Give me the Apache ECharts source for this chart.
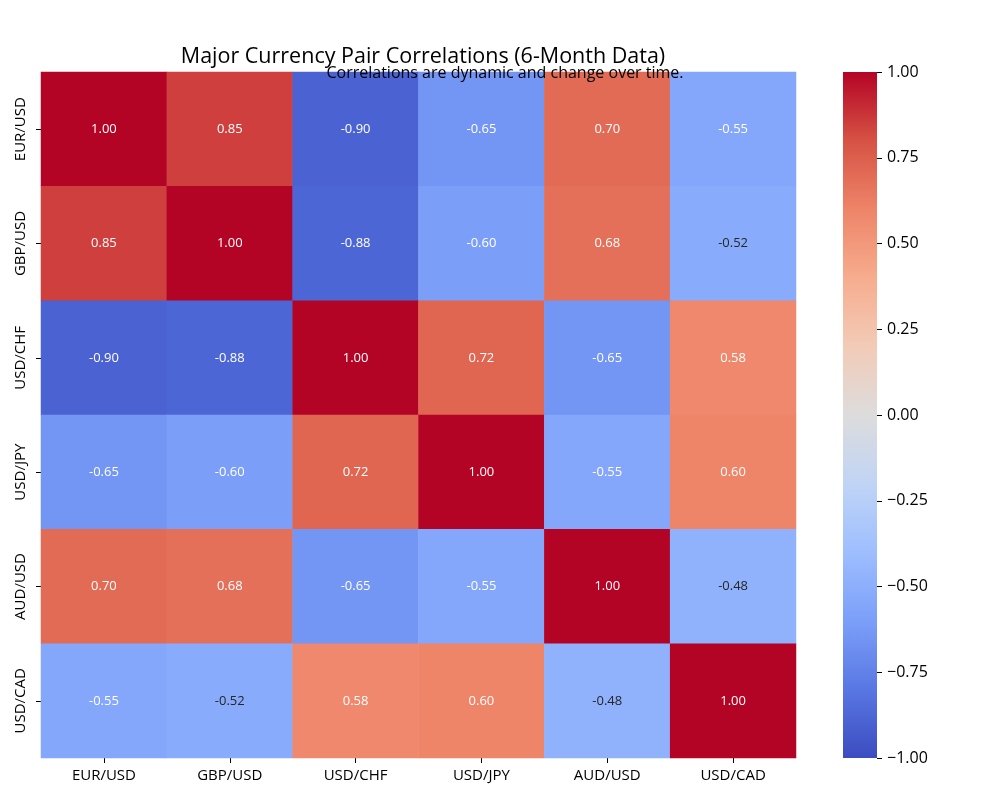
<!DOCTYPE html>
<html>
<head>
<meta charset="utf-8">
<title>Major Currency Pair Correlations</title>
<script src="https://cdn.jsdelivr.net/npm/echarts@6/dist/echarts.min.js"></script>
<style>
  html, body { margin: 0; padding: 0; background: #fff; }
  #main { width: 1000px; height: 800px; }
</style>
</head>
<body>
<div id="main"></div>
<script>
"use strict";

/* ---------- data ---------- */
const pairs = ["EUR/USD", "GBP/USD", "USD/CHF", "USD/JPY", "AUD/USD", "USD/CAD"];

// correlation matrix, one row per pair (same order as `pairs`)
const corr = [
    [ 1.00,  0.85, -0.90, -0.65,  0.70, -0.55],
    [ 0.85,  1.00, -0.88, -0.60,  0.68, -0.52],
    [-0.90, -0.88,  1.00,  0.72, -0.65,  0.58],
    [-0.65, -0.60,  0.72,  1.00, -0.55,  0.60],
    [ 0.70,  0.68, -0.65, -0.55,  1.00, -0.48],
    [-0.55, -0.52,  0.58,  0.60, -0.48,  1.00]
];

// colour bar ticks
const cbMin = -1, cbMax = 1, cbStep = 0.25;

/* ---------- style ---------- */
const FONT = "'Open Sans', 'DejaVu Sans', sans-serif";
// matplotlib "coolwarm", 11 stops from -1 to 1
const COOLWARM = ["#3b4cc0", "#5977e3", "#7b9ff9", "#9ebeff", "#c0d4f5", "#dddcdc",
    "#f2cbb7", "#f7ac8e", "#ee8468", "#d65244", "#b40426"];

// heatmap cells: [x, y, value]
const cells = [];
corr.forEach((row, i) => row.forEach((v, j) => {
    cells.push({
        value: [j, i, v],
        // light cells get dark text, like seaborn does
        label: { color: Math.abs(v) > 0.53 ? "#ffffff" : "#262626" }
    });
}));

// colour bar gradient, bottom (-1) to top (+1)
const cbGradient = new echarts.graphic.LinearGradient(0, 1, 0, 0,
    COOLWARM.map((c, i) => ({ offset: i / (COOLWARM.length - 1), color: c })));

const chart = echarts.init(document.getElementById("main"));
chart.setOption({
    animation: false,
    textStyle: { fontFamily: FONT },
    title: [
        {
            text: "Major Currency Pair Correlations (6-Month Data)",
            left: 418, top: 41, textAlign: "center",
            textStyle: { fontSize: 21.5, fontWeight: "normal", color: "#000" }
        },
        {
            text: "Correlations are dynamic and change over time.",
            left: 500, top: 60, textAlign: "center",
            textStyle: { fontSize: 16, fontWeight: "normal", color: "#000" }
        }
    ],
    grid: [
        { left: 41, right: 204, top: 72, bottom: 42 },
        { left: 843, width: 34, top: 72, height: 686 }
    ],
    xAxis: [
        {
            type: "category", data: pairs, gridIndex: 0,
            axisLine: { show: false },
            axisTick: { show: true, alignWithLabel: true, length: 5, lineStyle: { color: "#000" } },
            axisLabel: { color: "#000", fontSize: 15, margin: 10 },
            splitArea: { show: false }
        },
        {
            type: "category", data: [""], gridIndex: 1, show: false,
            axisLine: { show: false }, axisTick: { show: false }, axisLabel: { show: false }
        }
    ],
    yAxis: [
        {
            type: "category", data: pairs, gridIndex: 0, inverse: true,
            axisLine: { show: false },
            axisTick: { show: true, alignWithLabel: true, length: 5, lineStyle: { color: "#000" } },
            axisLabel: { color: "#000", fontSize: 15, rotate: 90, margin: 13 },
            splitArea: { show: false }
        },
        {
            type: "value", gridIndex: 1, position: "right",
            min: cbMin, max: cbMax, interval: cbStep,
            axisLine: { show: false },
            splitLine: { show: false },
            axisTick: { show: true, length: 5, lineStyle: { color: "#000" } },
            axisLabel: {
                color: "#000", fontSize: 16, margin: 10,
                formatter: v => v.toFixed(2).replace("-", "\u2212")
            }
        }
    ],
    visualMap: {
        type: "continuous", min: cbMin, max: cbMax,
        seriesIndex: 0, show: false,
        inRange: { color: COOLWARM }
    },
    series: [
        {
            type: "heatmap", xAxisIndex: 0, yAxisIndex: 0,
            data: cells,
            label: { show: true, fontSize: 13, formatter: p => p.value[2].toFixed(2) },
            emphasis: { disabled: true }
        },
        {
            // colour bar: one area spanning the full value range
            type: "scatter", xAxisIndex: 1, yAxisIndex: 1, data: [],
            markArea: {
                silent: true,
                itemStyle: { color: cbGradient },
                data: [[{ yAxis: cbMin }, { yAxis: cbMax }]]
            }
        }
    ]
});
</script>
</body>
</html>
